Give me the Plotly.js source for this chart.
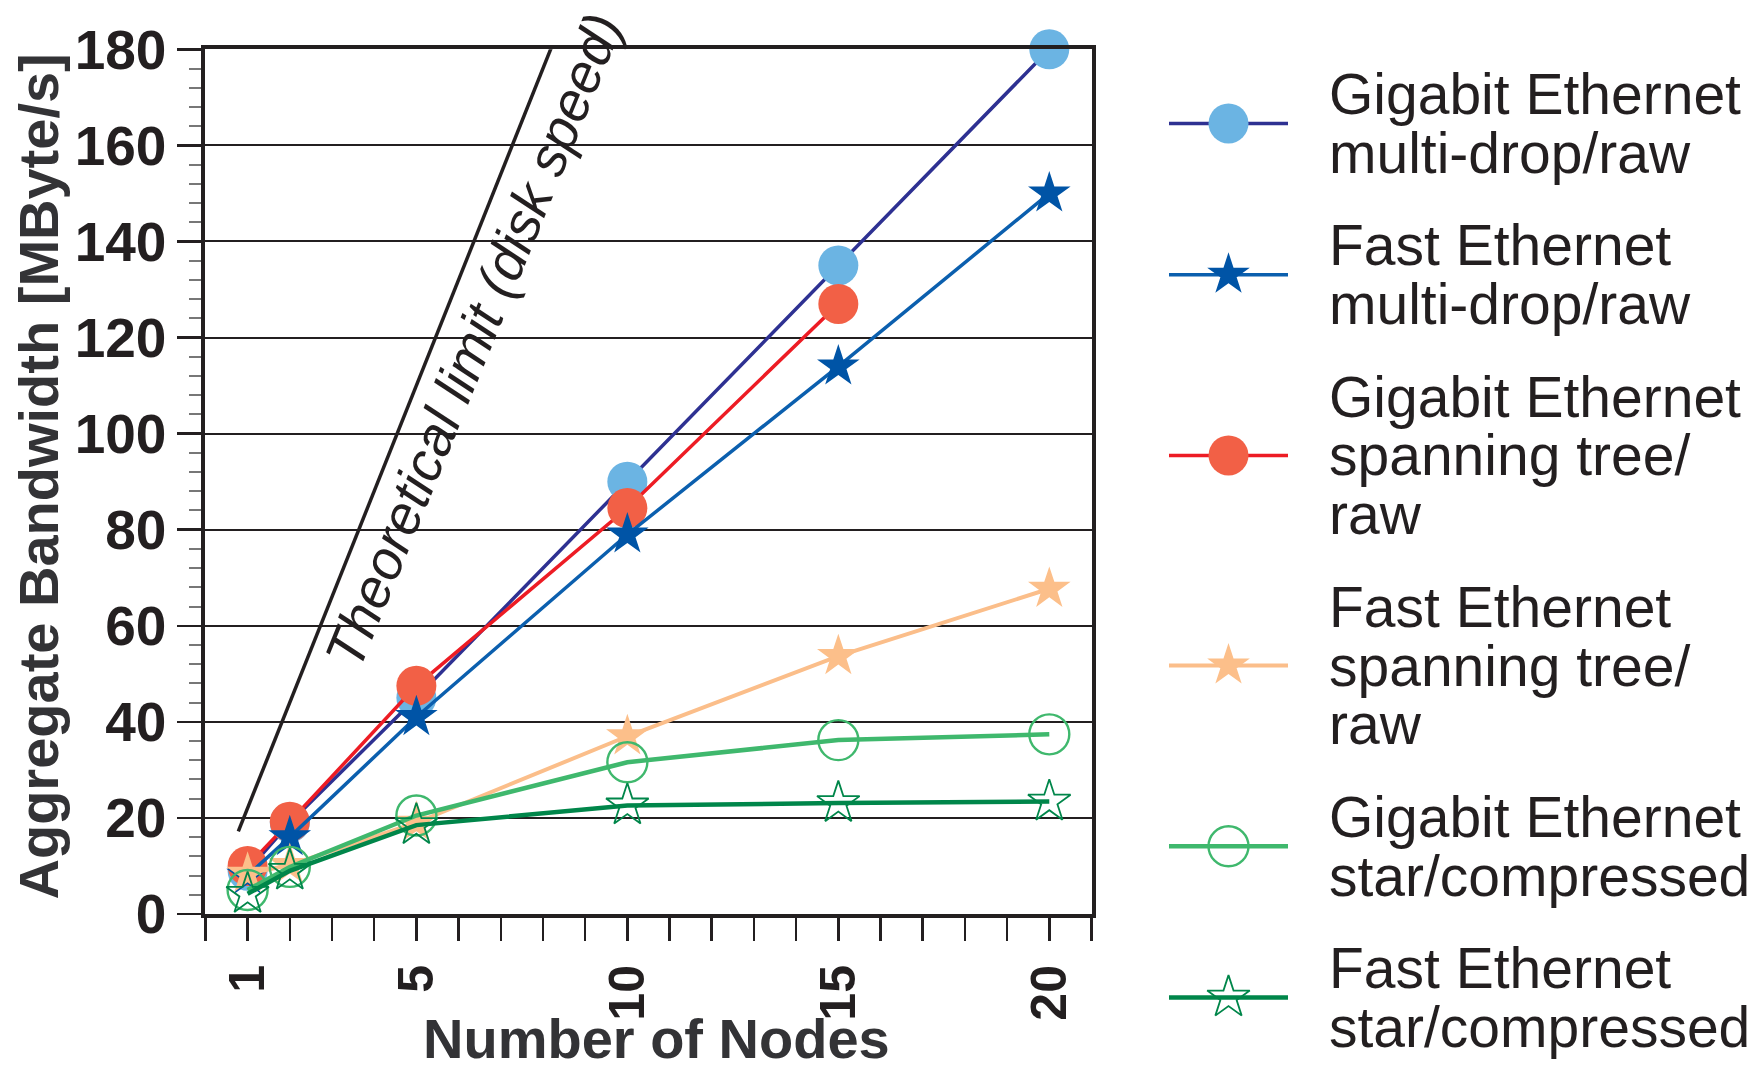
<!DOCTYPE html>
<html>
<head>
<meta charset="utf-8">
<script src="https://cdn.plot.ly/plotly-3.0.1.min.js"></script>
<style>html,body{margin:0;padding:0;background:#fff;}#chart{width:1758px;height:1074px;}</style>
</head>
<body>
<div id="chart"></div>
<script>
// ---- data ----
const nodes = [1, 2, 5, 10, 15, 20];
const nodesSpanGb = [1, 2, 5, 10, 15];
const gbMultiDrop = [9, 19, 45, 90, 135, 180];
const feMultiDrop = [8, 16, 41, 79, 114, 150];
const gbSpanTree = [10, 19.2, 47.5, 84.5, 127];
const feSpanTree = [8.4, 10.2, 19, 37, 53.7, 67.7];
const gbStarComp = [5, 9.8, 20.5, 31.6, 36.2, 37.4];
const feStarComp = [4.2, 9, 18.5, 22.6, 23.1, 23.4];
const theoryNodes = [0.78, 8.25];
const theoryBW = [17.2, 181.5];
const xTickVals = [1, 5, 10, 15, 20];
const xTickText = ['1', '5', '10', '15', '20'];
const yTickVals = [0, 20, 40, 60, 80, 100, 120, 140, 160, 180];
const seriesLabels = [
  ['Gigabit Ethernet', 'multi-drop/raw'],
  ['Fast Ethernet', 'multi-drop/raw'],
  ['Gigabit Ethernet', 'spanning tree/', 'raw'],
  ['Fast Ethernet', 'spanning tree/', 'raw'],
  ['Gigabit Ethernet', 'star/compressed'],
  ['Fast Ethernet', 'star/compressed']
];
const theoryLabel = 'Theoretical limit (disk speed)';
const xTitle = 'Number of Nodes';
const yTitle = 'Aggregate Bandwidth [MByte/s]';

// ---- styles ----
const FONT = 'Liberation Sans, Arial, Helvetica, sans-serif';
const INK = '#231f20';
const styles = [
  {line: '#2e3192', lw: 3.5, sym: 'circle', mcol: '#6bb4e3', size: 40, mlw: 0},
  {line: '#0b5fae', lw: 3.5, sym: 'star', mcol: '#0054a6', size: 32, mlw: 0},
  {line: '#ed1c24', lw: 3.5, sym: 'circle', mcol: '#f26046', size: 40, mlw: 0},
  {line: '#fbbe8a', lw: 4, sym: 'star', mcol: '#fcbf8a', size: 32, mlw: 0},
  {line: '#3fb86d', lw: 4.5, sym: 'circle-open', mcol: '#3fb86d', size: 40, mlw: 2.4},
  {line: '#00864a', lw: 4.5, sym: 'star-open', mcol: '#00864a', size: 32, mlw: 1.8}
];
const seriesX = [nodes, nodes, nodesSpanGb, nodes, nodes, nodes];
const seriesY = [gbMultiDrop, feMultiDrop, gbSpanTree, feSpanTree, gbStarComp, feStarComp];
const drawOrder = [0, 2, 1, 3, 4, 5];

const W = 1758, H = 1074;
const plotL = 205.4, plotR = 1091.5, plotT = 49.3, plotB = 914;

const traces = [];
traces.push({
  x: theoryNodes, y: theoryBW, mode: 'lines', xaxis: 'x', yaxis: 'y',
  line: {color: INK, width: 3.5}, hoverinfo: 'skip'
});
drawOrder.forEach(i => {
  const s = styles[i];
  traces.push({
    x: seriesX[i], y: seriesY[i], mode: 'lines+markers', xaxis: 'x', yaxis: 'y',
    line: {color: s.line, width: s.lw},
    marker: {symbol: s.sym, size: s.size, color: s.mcol, line: {color: s.mcol, width: s.mlw}},
    cliponaxis: false
  });
});

// ---- hand-made legend (pixel space axis x2/y2) ----
const annotations = [];
const lineH = 58.8, entryGap = 92.5;
let cy = 94;
const keyX0 = 1169, keyX1 = 1288, keyXm = 1228.5, textX = 1327;
seriesLabels.forEach((lines, i) => {
  const ys = lines.map((_, k) => cy + k * lineH);
  const ky = (ys[0] + ys[ys.length - 1]) / 2;
  const s = styles[i];
  traces.push({x: [keyX0, keyX1], y: [ky, ky], mode: 'lines', xaxis: 'x2', yaxis: 'y2',
    line: {color: s.line, width: s.lw}, hoverinfo: 'skip'});
  traces.push({x: [keyXm], y: [ky], mode: 'markers', xaxis: 'x2', yaxis: 'y2',
    marker: {symbol: s.sym, size: s.size, color: s.mcol, line: {color: s.mcol, width: s.mlw}},
    hoverinfo: 'skip'});
  lines.forEach((t, k) => {
    annotations.push({xref: 'x2', yref: 'y2', x: textX, y: ys[k], text: t, showarrow: false,
      xanchor: 'left', yanchor: 'middle', font: {family: FONT, size: 57, color: INK}});
  });
  cy = ys[ys.length - 1] + entryGap;
});

annotations.push({
  xref: 'x', yref: 'y', x: 6.37, y: 119.4, text: '<i>' + theoryLabel + '</i>', showarrow: false,
  textangle: -67.8, xanchor: 'center', yanchor: 'middle',
  font: {family: FONT, size: 55, color: INK}
});
annotations.push({
  xref: 'paper', yref: 'paper', x: 38 / W, y: 1 - 476.5 / H, text: '<b>' + yTitle + '</b>',
  showarrow: false, textangle: -90, xanchor: 'center', yanchor: 'middle',
  font: {family: FONT, size: 56, color: '#333336'}
});
annotations.push({
  xref: 'paper', yref: 'paper', x: 656.5 / W, y: 1 - 1038 / H, text: '<b>' + xTitle + '</b>',
  showarrow: false, xanchor: 'center', yanchor: 'middle',
  font: {family: FONT, size: 56, color: '#333336'}
});

const layout = {
  width: W, height: H,
  margin: {l: 0, r: 0, t: 0, b: 0, pad: 0},
  paper_bgcolor: '#ffffff', plot_bgcolor: 'rgba(0,0,0,0)',
  showlegend: false,
  xaxis: {
    domain: [plotL / W, plotR / W], range: [0, 21], anchor: 'y',
    tickmode: 'array', tickvals: xTickVals, ticktext: xTickText, tickangle: -90,
    ticks: 'outside', ticklen: 23, tickwidth: 2.5, tickcolor: INK,
    ticklabelstandoff: 4,
    minor: {dtick: 1, tick0: 0, ticks: 'outside', ticklen: 23, tickwidth: 2.5, tickcolor: INK, showgrid: false},
    showgrid: false, zeroline: false, showline: true, mirror: true, linewidth: 4, linecolor: INK,
    tickfont: {family: FONT, size: 50, weight: 'bold', color: INK},
    automargin: false, fixedrange: true
  },
  yaxis: {
    domain: [1 - plotB / H, 1 - plotT / H], range: [0, 180], anchor: 'x',
    tickmode: 'array', tickvals: yTickVals,
    ticks: 'outside', ticklen: 24, tickwidth: 2.5, tickcolor: INK,
    minor: {dtick: 4, tick0: 0, ticks: 'outside', ticklen: 12, tickwidth: 2, tickcolor: '#777777', showgrid: false},
    showgrid: true, gridcolor: INK, gridwidth: 2,
    zeroline: false, showline: true, mirror: true, linewidth: 4, linecolor: INK,
    tickfont: {family: FONT, size: 55, weight: 'bold', color: INK},
    automargin: false, fixedrange: true
  },
  xaxis2: {domain: [0, 1], range: [0, W], anchor: 'y2', visible: false, fixedrange: true},
  yaxis2: {domain: [0, 1], range: [H, 0], anchor: 'x2', visible: false, fixedrange: true},
  annotations: annotations
};

Plotly.newPlot('chart', traces, layout, {displayModeBar: false, staticPlot: true});
</script>
</body>
</html>
